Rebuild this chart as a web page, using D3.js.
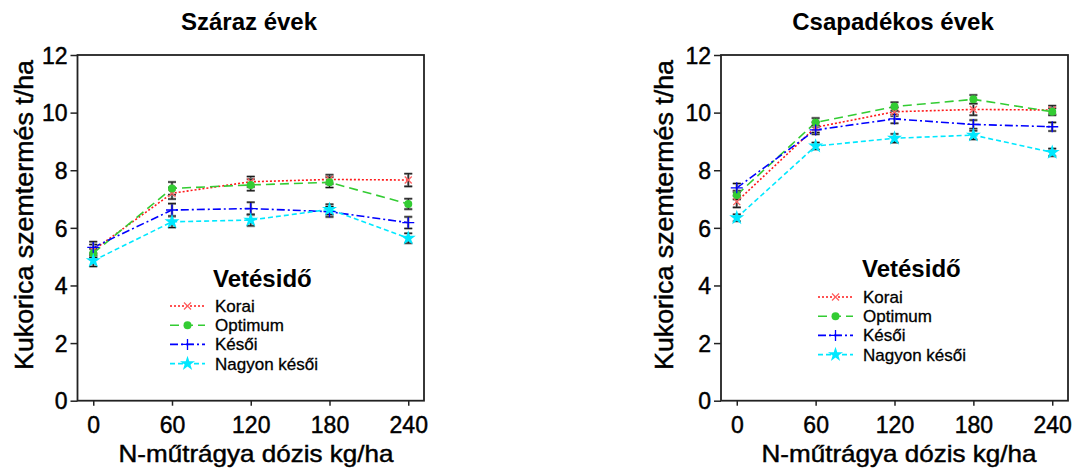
<!DOCTYPE html>
<html>
<head>
<meta charset="utf-8">
<script src="https://cdn.jsdelivr.net/npm/d3@7/dist/d3.min.js"></script>
<style>
  html, body { margin: 0; padding: 0; background: #ffffff; }
  svg { display: block; }
  text { font-family: "Liberation Sans", Arial, Helvetica, sans-serif; fill: #000; }
  .heavy { stroke: #000; stroke-width: 0.45px; }
</style>
</head>
<body>
<svg id="chart" width="1072" height="468"></svg>
<script>
// N fertiliser doses (kg/ha) and y-axis ticks
const doses = [0, 60, 120, 180, 240];
const yTicks = [0, 2, 4, 6, 8, 10, 12];
const seriesNames = ["Korai", "Optimum", "Késői", "Nagyon késői"];
const panelTitles = ["Száraz évek", "Csapadékos évek"];
const yTitle = "Kukorica szemtermés t/ha";
const xTitle = "N-műtrágya dózis kg/ha";
const legendTitle = "Vetésidő";

// Dry years: mean yield (t/ha) and standard error per sowing date
const szarazKorai       = [5.22, 7.20, 7.60, 7.68, 7.66];
const szarazOptimum     = [5.12, 7.37, 7.49, 7.58, 6.83];
const szarazKesoi       = [5.32, 6.62, 6.67, 6.56, 6.18];
const szarazNagyonKesoi = [4.86, 6.21, 6.27, 6.64, 5.64];
const szarazKoraiErr       = [0.20, 0.20, 0.18, 0.16, 0.22];
const szarazOptimumErr     = [0.15, 0.22, 0.20, 0.18, 0.18];
const szarazKesoiErr       = [0.20, 0.22, 0.22, 0.18, 0.20];
const szarazNagyonKesoiErr = [0.20, 0.20, 0.20, 0.18, 0.17];

// Wet years
const csapKorai       = [6.91, 9.49, 10.03, 10.11, 10.09];
const csapOptimum     = [7.14, 9.66, 10.21, 10.46, 10.03];
const csapKesoi       = [7.39, 9.40, 9.78, 9.59, 9.51];
const csapNagyonKesoi = [6.35, 8.84, 9.11, 9.22, 8.62];
const csapKoraiErr       = [0.20, 0.18, 0.15, 0.20, 0.15];
const csapOptimumErr     = [0.15, 0.15, 0.15, 0.15, 0.12];
const csapKesoiErr       = [0.15, 0.15, 0.15, 0.15, 0.15];
const csapNagyonKesoiErr = [0.12, 0.12, 0.15, 0.15, 0.13];

// Line / marker style per sowing date
const styles = [
  { color: "#ff1a1a", dash: "2,2",      marker: "x" },
  { color: "#33cc33", dash: "9,5",      marker: "circle" },
  { color: "#0000ff", dash: "8,3,2,3",  marker: "plus" },
  { color: "#00e8ff", dash: "5,3",      marker: "star" }
];

const panels = [
  {
    title: panelTitles[0],
    values: [szarazKorai, szarazOptimum, szarazKesoi, szarazNagyonKesoi],
    errors: [szarazKoraiErr, szarazOptimumErr, szarazKesoiErr, szarazNagyonKesoiErr],
    x0: 77.5, x1: 424, titleX: 249, yTitleX: 33, xTitleX: 256,
    legend: { titleX: 213, titleY: 287, rowY: 306, lineX0: 170, lineX1: 205, textX: 215 }
  },
  {
    title: panelTitles[1],
    values: [csapKorai, csapOptimum, csapKesoi, csapNagyonKesoi],
    errors: [csapKoraiErr, csapOptimumErr, csapKesoiErr, csapNagyonKesoiErr],
    x0: 721, x1: 1068, titleX: 893, yTitleX: 673, xTitleX: 899,
    legend: { titleX: 862, titleY: 277, rowY: 297, lineX0: 818, lineX1: 853, textX: 863 }
  }
];

const yTop = 55, yBottom = 400.7;
const rowGap = 19.2;
const svg = d3.select("#chart");

function drawMarker(g, type, color) {
  if (type === "x") {
    g.append("path").attr("d", "M-3.5,-3.5L3.5,3.5M-3.5,3.5L3.5,-3.5")
      .attr("stroke", "#ff6060").attr("stroke-width", 1.3).attr("fill", "none");
  } else if (type === "circle") {
    g.append("circle").attr("r", 4).attr("fill", color);
  } else if (type === "plus") {
    g.append("path").attr("d", "M-6,0H6M0,-5.5V5.5")
      .attr("stroke", color).attr("stroke-width", 1.3).attr("fill", "none");
  } else if (type === "star") {
    g.append("path").attr("d", d3.symbol(d3.symbolStar, 70)()).attr("fill", color);
  }
}

panels.forEach(p => {
  const x = d3.scaleLinear().domain([-12, 252]).range([p.x0, p.x1]);
  const y = d3.scaleLinear().domain([0, 12]).range([yBottom, yTop]);
  const g = svg.append("g");

  // frame
  g.append("rect")
    .attr("x", p.x0).attr("y", yTop)
    .attr("width", p.x1 - p.x0).attr("height", yBottom - yTop)
    .attr("fill", "none").attr("stroke", "#222").attr("stroke-width", 1.8);

  // y axis
  const ya = g.append("g").attr("transform", `translate(${p.x0},0)`)
    .call(d3.axisLeft(y).tickValues(yTicks).tickFormat(d3.format("d"))
      .tickSize(7).tickSizeOuter(0).tickPadding(3));
  ya.select(".domain").remove();
  ya.selectAll(".tick line").attr("stroke", "#222").attr("stroke-width", 1.5);
  ya.selectAll(".tick text").attr("font-size", 23).attr("dy", "0.36em")
    .attr("class", "heavy")
    .style("font-family", "'Liberation Sans', Arial, sans-serif");

  // x axis
  const xa = g.append("g").attr("transform", `translate(0,${yBottom})`)
    .call(d3.axisBottom(x).tickValues(doses).tickFormat(d3.format("d"))
      .tickSize(5).tickSizeOuter(0).tickPadding(11));
  xa.select(".domain").remove();
  xa.selectAll(".tick line").attr("stroke", "#222").attr("stroke-width", 1.5);
  xa.selectAll(".tick text").attr("font-size", 23)
    .attr("class", "heavy")
    .style("font-family", "'Liberation Sans', Arial, sans-serif");

  // titles
  g.append("text").attr("x", p.titleX).attr("y", 30)
    .attr("text-anchor", "middle").attr("font-size", 24).attr("font-weight", "bold")
    .text(p.title);
  g.append("text").attr("class", "heavy")
    .attr("transform", `translate(${p.yTitleX},215) rotate(-90)`)
    .attr("text-anchor", "middle").attr("font-size", 25)
    .attr("textLength", 310).attr("lengthAdjust", "spacingAndGlyphs")
    .text(yTitle);
  g.append("text").attr("class", "heavy").attr("x", p.xTitleX).attr("y", 461.5)
    .attr("text-anchor", "middle").attr("font-size", 24)
    .attr("textLength", 275).attr("lengthAdjust", "spacingAndGlyphs")
    .text(xTitle);

  // series lines
  const line = d3.line().x((d, i) => x(doses[i])).y(d => y(d));
  p.values.forEach((vals, si) => {
    g.append("path").datum(vals)
      .attr("d", line).attr("fill", "none")
      .attr("stroke", styles[si].color).attr("stroke-width", 1.6)
      .attr("stroke-dasharray", styles[si].dash);
  });

  // error bars
  p.values.forEach((vals, si) => {
    vals.forEach((v, i) => {
      const e = p.errors[si][i];
      const cx = x(doses[i]), ya0 = y(v - e), ya1 = y(v + e);
      const eb = g.append("g");
      const d = `M${cx},${ya0}V${ya1}M${cx - 4},${ya0}H${cx + 4}M${cx - 4},${ya1}H${cx + 4}`;
      eb.append("path").attr("d", d).attr("stroke", "#9a9a9a").attr("stroke-width", 2.6).attr("fill", "none");
      eb.append("path").attr("d", d).attr("stroke", "#111").attr("stroke-width", 1).attr("fill", "none");
    });
  });

  // markers
  p.values.forEach((vals, si) => {
    vals.forEach((v, i) => {
      const m = g.append("g").attr("transform", `translate(${x(doses[i])},${y(v)})`);
      drawMarker(m, styles[si].marker, styles[si].color);
    });
  });

  // legend
  const L = p.legend;
  g.append("text").attr("x", L.titleX).attr("y", L.titleY)
    .attr("font-size", 24).attr("font-weight", "bold").text(legendTitle);
  seriesNames.forEach((name, si) => {
    const cy = L.rowY + si * rowGap;
    g.append("line").attr("x1", L.lineX0).attr("x2", L.lineX1)
      .attr("y1", cy).attr("y2", cy)
      .attr("stroke", styles[si].color).attr("stroke-width", 1.6)
      .attr("stroke-dasharray", styles[si].dash);
    const m = g.append("g").attr("transform", `translate(${(L.lineX0 + L.lineX1) / 2},${cy})`);
    drawMarker(m, styles[si].marker, styles[si].color);
    g.append("text").attr("class", "heavy").attr("x", L.textX).attr("y", cy + 6)
      .attr("font-size", 17).style("stroke-width", "0.3px").text(name);
  });
});
</script>
</body>
</html>
